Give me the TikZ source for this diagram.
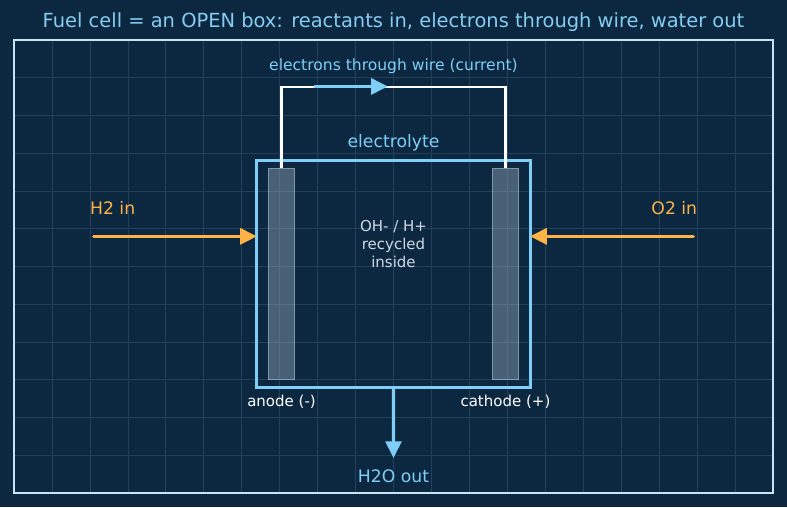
\documentclass[tikz,border=0pt]{standalone}
\usepackage{fontspec}
\setmainfont{DejaVu Sans}
\usetikzlibrary{arrows.meta,fit}

\definecolor{bgnavy}{HTML}{0C2740}
\definecolor{gridline}{HTML}{23405B}
\definecolor{framecol}{HTML}{C9E2F2}
\definecolor{skyline}{HTML}{7FCEF7}
\definecolor{titlecol}{HTML}{86CDF2}
\definecolor{fuelorange}{HTML}{FFB347}
\definecolor{ioncol}{HTML}{CFD9E4}
\definecolor{platefill}{HTML}{9AAFC2}
\definecolor{plateedge}{HTML}{A9BBCB}

\tikzset{
  cellbox/.style={draw=skyline, line width=2.2pt, inner sep=0pt, outer sep=0pt},
  plate/.style={draw=plateedge, fill=platefill, fill opacity=0.42, draw opacity=0.6,
    line width=0.8pt, inner sep=0pt},
  feed/.style={->, draw=fuelorange, line width=2.2pt, line cap=round},
  wire/.style={draw=white, line width=1.6pt},
  flow/.style={->, draw=skyline, line width=2.2pt},
  lbl/.style={font=\fontsize{12.4}{14}\selectfont, inner sep=0pt}
}

\begin{document}
\begin{tikzpicture}[x=27.32pt,y=27.18pt,>={Triangle[length=12pt,width=11.5pt]}]
  \fill[bgnavy] (-0.369,-0.371) rectangle (20.369,13.06);
  \useasboundingbox (-0.369,-0.371) rectangle (20.369,13.06);
  \draw[gridline, line width=0.5pt, step={(1,1)}] (0,0) grid (20,12);
  \draw[framecol, line width=1.1pt] (0,0) rectangle (20,12);

  \node[lbl, text=titlecol, font=\fontsize{14}{16}\selectfont] (title) at (10,12.48)
    {Fuel cell = an OPEN box: reactants in, electrons through wire, water out};

  % the cell and its two electrodes
  \node[cellbox, fit={(6.4,2.8) (13.6,8.8)}] (cell) {};
  \node[plate, fit={(6.7,3.0) (7.4,8.6)}] (anode) {};
  \node[plate, fit={(12.6,3.0) (13.3,8.6)}] (cathode) {};

  \node[lbl, text=skyline] (electrolyte) at (10,9.28) {electrolyte};
  \node[lbl, text=ioncol, align=center, font=\fontsize{10.8}{13}\selectfont] (ions) at (10,6.6)
    {OH- / H+\\recycled\\inside};
  \node[lbl, text=white, font=\fontsize{10.8}{13}\selectfont] (anodelbl) at (7.05,2.41) {anode (-)};
  \node[lbl, text=white, font=\fontsize{10.8}{13}\selectfont] (cathodelbl) at (12.95,2.41) {cathode (+)};

  % external wire
  \coordinate (wiretop) at (10,10.75);
  \draw[wire] (anode.north) |- (wiretop) -| (cathode.north);
  \coordinate (eA) at (7.9,10.77);
  \coordinate (eB) at (9.85,10.77);
  \draw[flow] (eA) -- (eB);
  \node[lbl, text=skyline, font=\fontsize{11.2}{13}\selectfont] (wirelbl) at (10,11.31)
    {electrons through wire (current)};

  % reactants in
  \coordinate (h2) at (2.1,6.8);
  \coordinate (o2) at (17.9,6.8);
  \draw[feed] (h2) -- (h2 -| cell.west);
  \draw[feed] (o2) -- (o2 -| cell.east);
  \node[lbl, text=fuelorange] (h2lbl) at (2.6,7.55) {H2 in};
  \node[lbl, text=fuelorange] (o2lbl) at (17.4,7.55) {O2 in};

  % water out
  \coordinate (h2o) at (10,0.93);
  \draw[flow] (cell.south) -- (h2o);
  \node[lbl, text=skyline] (h2olbl) at (10,0.45) {H2O out};
\end{tikzpicture}
\end{document}
